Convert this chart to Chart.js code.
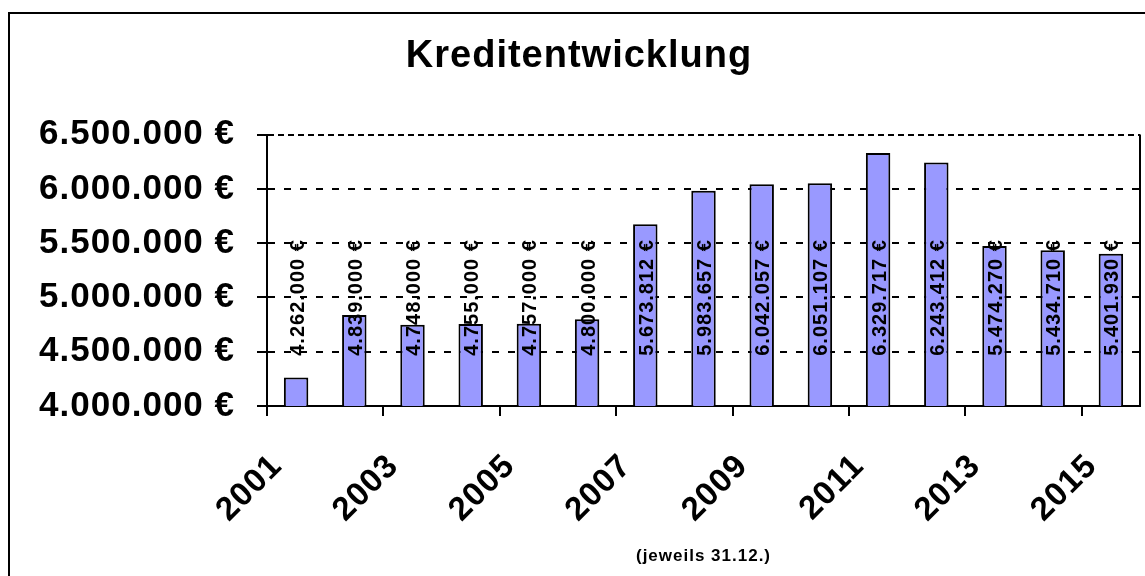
<!DOCTYPE html>
<html>
<head>
<meta charset="utf-8">
<script src="https://cdn.jsdelivr.net/npm/chart.js@4"></script>
<style>
  body { margin: 0; background: #fff; }
  #c { display: block; }
</style>
</head>
<body>
<canvas id="c" width="1145" height="576"></canvas>
<script>
const years = ["2001", "2002", "2003", "2004", "2005", "2006", "2007", "2008",
               "2009", "2010", "2011", "2012", "2013", "2014", "2015"]
const kredit = [4262000, 4839000, 4748000, 4755000, 4757000, 4800000, 5673812, 5983657,
                6042057, 6051107, 6329717, 6243412, 5474270, 5434710, 5401930]
const yMin = 4000000
const yMax = 6500000
const yStep = 500000

const FONT = "'Liberation Sans', Arial, sans-serif"

const euro = (n) => String(n).replace(/\B(?=(\d{3})+(?!\d))/g, ".") + " €"

// a bit wider letters, like in the original
const spacing = {
    id: "spacing",
    beforeDraw(chart) {
        chart.ctx.letterSpacing = "1px"
    }
}

const werte = {
    id: "werte",
    afterDatasetsDraw(chart) {
        const ctx = chart.ctx
        const y = chart.scales.y.getPixelForValue(5000000)
        ctx.save()
        ctx.font = "bold 20px " + FONT
        ctx.fillStyle = "#000"
        ctx.textAlign = "center"
        ctx.textBaseline = "middle"
        chart.getDatasetMeta(0).data.forEach((bar, i) => {
            ctx.save()
            ctx.translate(bar.x + 2, y)
            ctx.rotate(-Math.PI / 2)
            ctx.fillText(euro(kredit[i]), 0, 0)
            ctx.restore()
        })
        ctx.restore()
    }
}

const rahmen = {
    id: "rahmen",
    afterDraw(chart) {
        const ctx = chart.ctx
        const a = chart.chartArea
        ctx.save()
        ctx.strokeStyle = "#000"
        ctx.lineWidth = 2
        ctx.beginPath()
        ctx.moveTo(a.right, a.top)
        ctx.lineTo(a.right, a.bottom)
        ctx.stroke()
        ctx.strokeRect(9, 13, 1160, 600)
        ctx.restore()
    }
}

new Chart(document.getElementById("c"), {
    type: "bar",
    data: {
        labels: years,
        datasets: [{
            label: "Kredit",
            data: kredit,
            backgroundColor: "#9999ff",
            borderColor: "#000",
            borderWidth: 2,
            borderSkipped: false,
            barPercentage: 0.42,
            categoryPercentage: 1
        }]
    },
    options: {
        responsive: false,
        animation: false,
        layout: { padding: { left: 18, right: 5, top: 0, bottom: 0 } },
        plugins: {
            legend: { display: false },
            tooltip: { enabled: false },
            title: {
                display: true,
                text: "Kreditentwicklung",
                color: "#000",
                font: { family: FONT, size: 38, weight: "bold" },
                padding: { top: 34, bottom: 55 }
            }
        },
        scales: {
            x: {
                afterFit: (s) => {
                    s.height = 170
                    s.paddingLeft = 0
                    s.paddingRight = 0
                },
                grid: {
                    offset: true,
                    drawOnChartArea: false,
                    drawTicks: true,
                    tickLength: 10,
                    lineWidth: 2,
                    color: (c) => c.index % 2 === 0 ? "#000" : "rgba(0,0,0,0)"
                },
                border: { color: "#000", width: 2 },
                ticks: {
                    autoSkip: false,
                    maxRotation: 45,
                    minRotation: 45,
                    padding: 31,
                    labelOffset: -19,
                    color: "#000",
                    font: { family: FONT, size: 33, weight: "bold" },
                    callback: function (v, i) { return i % 2 === 0 ? this.getLabelForValue(v) : "" }
                },
                title: {
                    display: true,
                    text: "(jeweils 31.12.)",
                    color: "#000",
                    font: { family: FONT, size: 17, weight: "bold" },
                    padding: { top: 0, bottom: 9 }
                }
            },
            y: {
                min: yMin,
                max: yMax,
                afterFit: (s) => { s.width = 249 },
                grid: {
                    color: "#000",
                    lineWidth: 2,
                    tickLength: 10,
                    tickColor: "#000",
                    tickWidth: 2
                },
                border: {
                    color: "#000",
                    width: 2,
                    dash: (c) => c.tick && c.tick.value === yMax ? [6, 4] : [7, 9]
                },
                ticks: {
                    stepSize: yStep,
                    padding: 22,
                    color: "#000",
                    font: { family: FONT, size: 35, weight: "bold" },
                    callback: (v) => euro(v)
                }
            }
        }
    },
    plugins: [spacing, werte, rahmen]
})
</script>
</body>
</html>
